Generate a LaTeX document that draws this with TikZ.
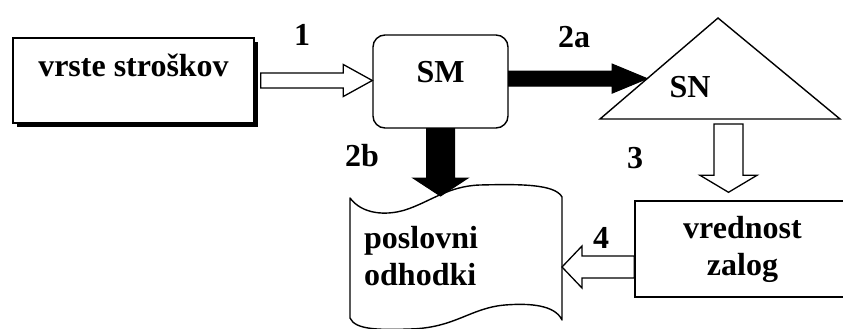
\documentclass[tikz,border=0pt]{standalone}
\usepackage{fontspec}
\setmainfont{Liberation Serif}
\usetikzlibrary{calc,shadows}

\begin{document}
\begin{tikzpicture}[x=1pt,y=-1pt,
	txt/.style={font=\fontsize{32}{37}\selectfont\bfseries},
	box/.style={draw,fill=white,line width=1.4pt,txt,inner sep=0pt},
	num/.style={txt,inner sep=0pt,anchor=base},
	whitearrow/.style={draw,line width=1.3pt,fill=white},
	blackarrow/.style={draw,line width=1pt,fill=black},
	% block arrow: #1 half shaft, #2 half head, #3 head length
	blockarrow/.style n args={3}{to path={
		($(\tikztostart)!#1!90:(\tikztotarget)$)
		-- ($($(\tikztotarget)!#3!(\tikztostart)$)!#1!90:(\tikztotarget)$)
		-- ($($(\tikztotarget)!#3!(\tikztostart)$)!#2!90:(\tikztotarget)$)
		-- (\tikztotarget)
		-- ($($(\tikztotarget)!#3!(\tikztostart)$)!#2!-90:(\tikztotarget)$)
		-- ($($(\tikztotarget)!#3!(\tikztostart)$)!#1!-90:(\tikztotarget)$)
		-- ($(\tikztostart)!#1!-90:(\tikztotarget)$) -- cycle}}]
	\useasboundingbox (0,0) rectangle (843,329);
	\clip (0,0) rectangle (843,329);

	% boxes
	\node[box,drop shadow={shadow xshift=4pt,shadow yshift=-4pt,fill=black,opacity=1},
		minimum width=241pt,minimum height=85pt,text height=22pt,text depth=29pt] (vrste) at (133.5,80.5) {vrste stroškov};
	\node[box,rounded corners=12pt,minimum width=135pt,minimum height=93pt,
		text height=22pt,text depth=21pt] (sm) at (440.5,81.5) {SM};
	\node[box,minimum width=215pt,minimum height=96pt,align=center] (zalog) at (742.5,249) {vrednost\\zalog};

	% triangle SN
	\coordinate (snL) at (600,119);
	\coordinate (snT) at (718,18);
	\coordinate (snR) at (840,119);
	\draw[line width=1.4pt] (snL) -- (snT) -- (snR) -- cycle;
	\node[txt,anchor=base] (sn) at (690,97) {SN};

	% document
	\draw[line width=1.4pt,line join=round] (350,198)
		.. controls (362,214) and (385,216) .. (405,210)
		.. controls (430,202) and (448,186) .. (480,185)
		.. controls (520,184) and (555,184) .. (562,197)
		-- (562,320)
		.. controls (555,305) and (530,303) .. (505,305)
		.. controls (470,308) and (455,328) .. (410,329)
		.. controls (380,330) and (355,330) .. (350,318) -- cycle;
	\node[txt,align=left,anchor=west,inner sep=0pt] (odhodki) at (364,256) {poslovni\\odhodki};
	\coordinate (docT) at (442,196);
	\coordinate (docR) at (562,267);

	% arrows
	\draw[whitearrow] ([xshift=6pt]vrste.east) to[blockarrow={7.5pt}{16pt}{29pt}] (sm.west |- vrste.east);
	\coordinate (snE) at ($(snL)!0.4!(snT)$);
	\draw[blackarrow] (sm.east |- snE) to[blockarrow={7.5pt}{14.5pt}{35pt}] (snE);
	\draw[blackarrow] (sm.south) to[blockarrow={14pt}{27.5pt}{18pt}] (sm.south |- docT);
	\coordinate (snB) at (728.5,119);
	\draw[whitearrow] ([yshift=-5pt]snB) to[blockarrow={14.5pt}{28.5pt}{17pt}] ([yshift=8pt]snB |- zalog.north);
	\draw[whitearrow] (zalog.west |- docR) to[blockarrow={11pt}{21pt}{20pt}] (docR);

	% numbers
	\node[num] (n1) at (302,46) {1};
	\node[num] (n2a) at (574,48) {2a};
	\node[num] (n2b) at (362,166) {2b};
	\node[num] (n3) at (635,168) {3};
	\node[num] (n4) at (601,248) {4};
\end{tikzpicture}
\end{document}
